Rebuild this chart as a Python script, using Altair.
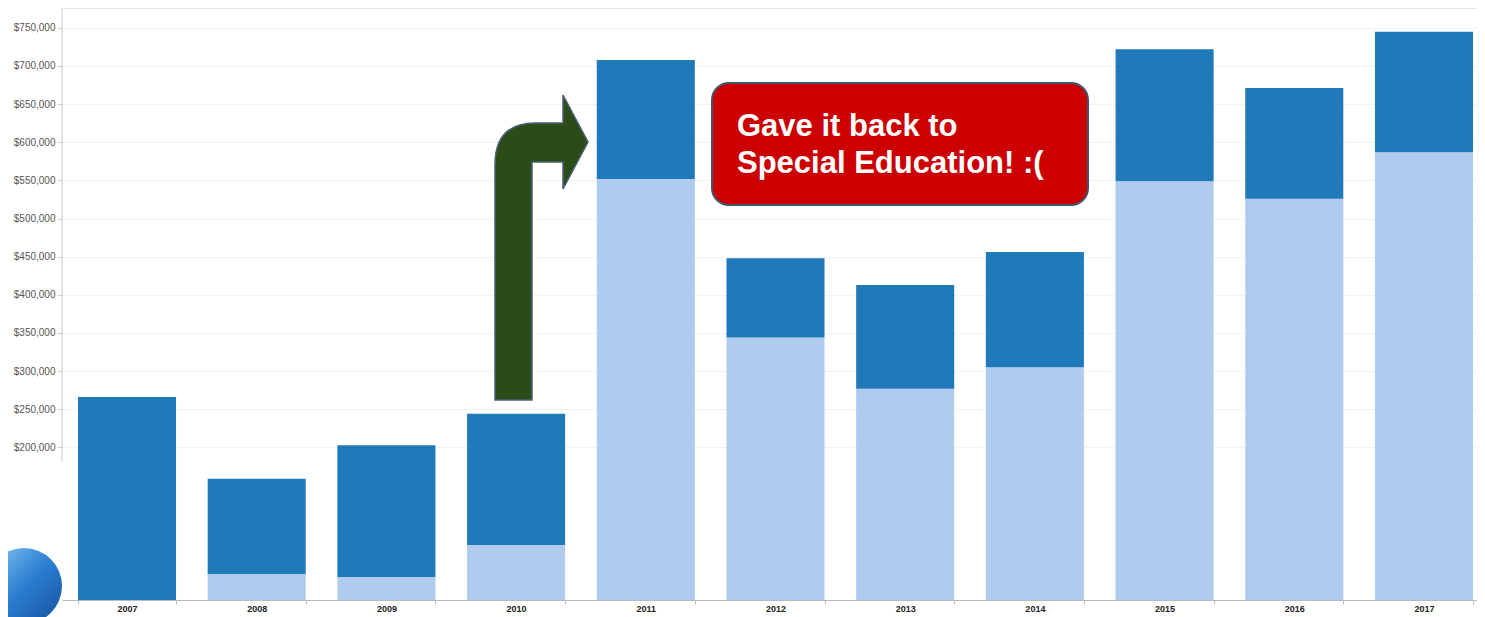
import altair as alt
import pandas as pd

years = ["2007", "2008", "2009", "2010", "2011", "2012", "2013", "2014", "2015", "2016", "2017"]
lower = [0, 34000, 30000, 72000, 552000, 344000, 277000, 305000, 549000, 526000, 587000]
upper = [266000, 125000, 173000, 172000, 156000, 104000, 136000, 151000, 173000, 145000, 158000]
y_ticks = [200000, 250000, 300000, 350000, 400000, 450000, 500000, 550000, 600000, 650000, 700000, 750000]
note_lines = ["Gave it back to", "Special Education! :("]

rows = []
for i, yr in enumerate(years):
    rows.append({"year": yr, "segment": "lower", "amount": lower[i], "ord": 0})
    rows.append({"year": yr, "segment": "upper", "amount": upper[i], "ord": 1})
df = pd.DataFrame(rows)

W, H = 1415, 592
FONT = "Liberation Sans"

bars = alt.Chart(df).mark_bar().encode(
    x=alt.X("year:N", sort=years,
            scale=alt.Scale(paddingInner=0.244, paddingOuter=0.077, align=0.8),
            axis=alt.Axis(title=None, labelAngle=0, labelFont=FONT, labelFontWeight="bold",
                          labelFontSize=9, labelColor="#222", tickBand="extent", tickSize=4,
                          tickColor="#bbbbbb", domainColor="#bbbbbb", labelPadding=0, grid=False)),
    y=alt.Y("amount:Q", stack="zero",
            scale=alt.Scale(domain=[0, 776000], nice=False, zero=True),
            axis=alt.Axis(title=None, values=y_ticks, format="$,.0f", labelFont=FONT,
                          labelFontSize=10, labelColor="#555555", tickSize=5, tickColor="#cccccc",
                          labelPadding=2, domain=False, grid=True, gridColor="#f2f2f2")),
    color=alt.Color("segment:N", scale=alt.Scale(domain=["lower", "upper"], range=["#afcbee", "#2079b8"]),
                    legend=None),
    order=alt.Order("ord:Q"),
)

one = pd.DataFrame({"k": [0]})

top_rule = alt.Chart(one).mark_rule(color="#dddddd", strokeWidth=1.5).encode(
    x=alt.value(0), x2=alt.value(W), y=alt.value(0))
left_rule = alt.Chart(one).mark_rule(color="#cccccc").encode(
    x=alt.value(0), y=alt.value(0), y2=alt.value(454))

arrow_path = "M-42,150 L-5,150 L-5,-88 L26,-88 L26,-61 L51,-108 L26,-155 L26,-127 L-2,-127 Q-42,-127 -42,-85 Z"
arrow = alt.Chart(one).mark_point(shape=arrow_path, size=4, filled=True, fill="#2b4c16",
                                  stroke="#4b5d7a", strokeWidth=1.5, opacity=1, fillOpacity=1).encode(
    x=alt.value(475), y=alt.value(242))

box = alt.Chart(one).mark_rect(cornerRadius=17, fill="#cc0000", stroke="#44546a", strokeWidth=2).encode(
    x=alt.value(650), x2=alt.value(1026), y=alt.value(75), y2=alt.value(197))

note = alt.Chart(one).mark_text(text=note_lines, lineHeight=37, align="left", baseline="alphabetic",
                                font=FONT, fontSize=31, fontWeight="bold", color="white").encode(
    x=alt.value(675), y=alt.value(128))

globe = alt.Chart(one).mark_circle(
    size=5776, opacity=1,
    color=alt.LinearGradient(gradient="linear",
                             stops=[alt.GradientStop(color="#8cc8f5", offset=0),
                                    alt.GradientStop(color="#2a7fd0", offset=0.5),
                                    alt.GradientStop(color="#164f9e", offset=1)],
                             x1=0, x2=1, y1=0, y2=1)).encode(
    x=alt.value(-38), y=alt.value(578))

chart = alt.layer(bars, top_rule, left_rule, arrow, box, note, globe).properties(
    width=W, height=H,
    autosize=alt.AutoSizeParams(type="none"),
    padding={"left": 54, "top": 0, "right": 0, "bottom": 17},
).configure_view(stroke=None)

chart.save("out.html", embed_options={"renderer": "svg", "actions": False})
